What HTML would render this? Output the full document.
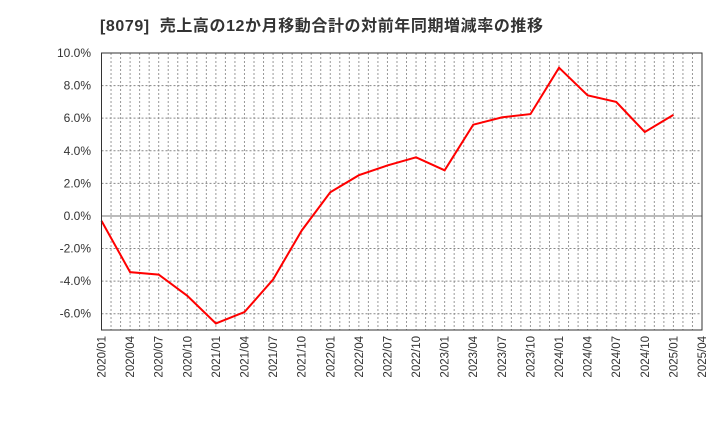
<!DOCTYPE html>
<html><head><meta charset="utf-8"><style>
body{margin:0;background:#fff;}
svg text{font-family:"Liberation Sans","Noto Sans CJK JP",sans-serif;}
</style></head><body>
<svg id="chart" width="720" height="440" xmlns="http://www.w3.org/2000/svg">
<text x="100" y="31" font-size="16" font-weight="bold" fill="#333" textLength="443" lengthAdjust="spacing" xml:space="preserve">[8079]  売上高の12か月移動合計の対前年同期増減率の推移</text>
<g id="grid"></g>
<g id="yaxis"></g>
<g id="xaxis"></g>
<polyline id="line" fill="none" stroke="#ff0000" stroke-width="2"/>
<rect x="101.5" y="53" width="600.5" height="277" fill="none" stroke="#333" stroke-width="1"/>
</svg>
<script>
const categories=["2020/01","2020/04","2020/07","2020/10","2021/01","2021/04","2021/07","2021/10","2022/01","2022/04","2022/07","2022/10","2023/01","2023/04","2023/07","2023/10","2024/01","2024/04","2024/07","2024/10","2025/01"];
const values=[-0.3,-3.45,-3.6,-4.9,-6.6,-5.9,-3.9,-0.9,1.45,2.5,3.1,3.6,2.8,5.6,6.05,6.25,9.1,7.4,7.0,5.15,6.2];
const xTickLabels=["2020/01","2020/04","2020/07","2020/10","2021/01","2021/04","2021/07","2021/10","2022/01","2022/04","2022/07","2022/10","2023/01","2023/04","2023/07","2023/10","2024/01","2024/04","2024/07","2024/10","2025/01","2025/04"];
const yTicks=[10,8,6,4,2,0,-2,-4,-6];
const NS="http://www.w3.org/2000/svg";
const L=101.5,R=702,T=53,B=330,yMax=10,yMin=-7,nQ=21;
const xs=i=>L+(R-L)*i/nQ;
const ys=v=>T+(yMax-v)/(yMax-yMin)*(B-T);
const grid=document.getElementById('grid'),ya=document.getElementById('yaxis'),xa=document.getElementById('xaxis');
function mk(tag,attrs,parent){const e=document.createElementNS(NS,tag);for(const k in attrs)e.setAttribute(k,attrs[k]);parent.appendChild(e);return e;}
for(let m=1;m<nQ*3;m++){const x=L+(R-L)*m/(nQ*3);
const g=mk('line',{x1:x,x2:x,y1:T,y2:B,stroke:'#999','stroke-dasharray':'2,2','stroke-width':1},grid);

}
yTicks.forEach(v=>{const y=ys(v);
const g=mk('line',{x1:L,x2:R,y1:y,y2:y,stroke:v===0?'#777':'#888','stroke-dasharray':v===0?'none':'2,2','stroke-width':1},grid);


const t=mk('text',{x:91,y:y+4,'text-anchor':'end','font-size':12,fill:'#333'},ya);
t.textContent=v.toFixed(1)+'%';

});
xTickLabels.forEach((s,i)=>{const x=xs(i);
const t=mk('text',{transform:`translate(${x+4},336) rotate(-90)`,'text-anchor':'end','font-size':11.5,fill:'#333'},xa);
t.textContent=s;

});
document.getElementById('line').setAttribute('points',values.map((v,i)=>xs(i)+','+ys(v)).join(' '));
</script>
</body></html>
